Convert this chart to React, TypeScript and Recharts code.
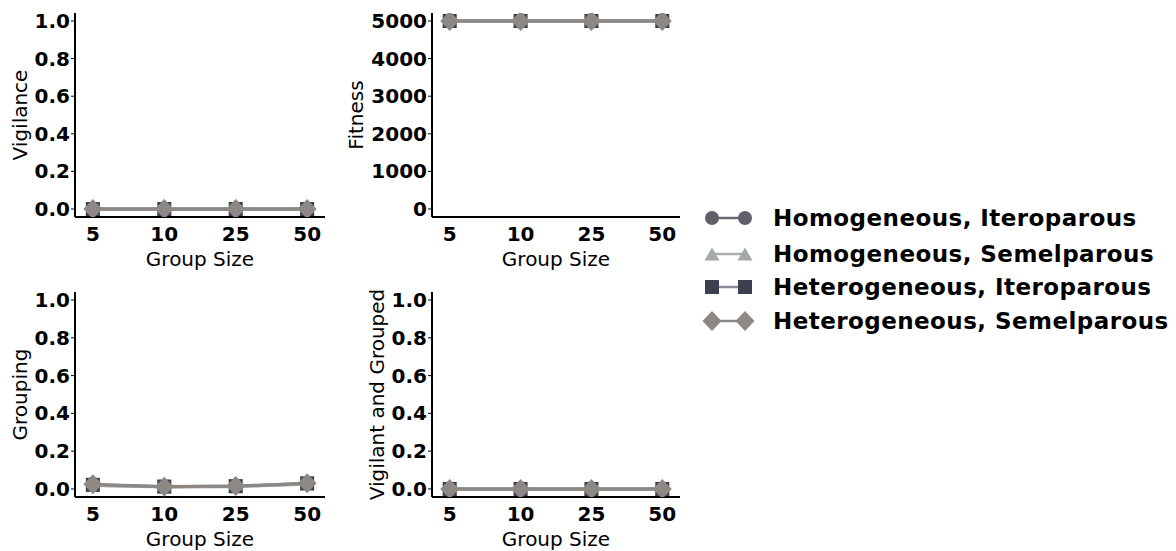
import React from 'react';
import { LineChart, Line, XAxis, YAxis } from 'recharts';

const groupSizes = ['5', '10', '25', '50'];

const vigilanceHomIter = [0, 0, 0, 0];
const vigilanceHomSemel = [0, 0, 0, 0];
const vigilanceHetIter = [0, 0, 0, 0];
const vigilanceHetSemel = [0, 0, 0, 0];

const fitnessHomIter = [5000, 5000, 5000, 5000];
const fitnessHomSemel = [5000, 5000, 5000, 5000];
const fitnessHetIter = [5000, 5000, 5000, 5000];
const fitnessHetSemel = [5000, 5000, 5000, 5000];

const groupingHomIter = [0.02, 0.012, 0.014, 0.028];
const groupingHomSemel = [0.018, 0.01, 0.012, 0.025];
const groupingHetIter = [0.022, 0.013, 0.015, 0.03];
const groupingHetSemel = [0.025, 0.012, 0.015, 0.03];

const bothHomIter = [0, 0, 0, 0];
const bothHomSemel = [0, 0, 0, 0];
const bothHetIter = [0, 0, 0, 0];
const bothHetSemel = [0, 0, 0, 0];

const propTicks = [0, 0.2, 0.4, 0.6, 0.8, 1.0];
const fitnessTicks = [0, 1000, 2000, 3000, 4000, 5000];

const seriesNames = [
  'Homogeneous, Iteroparous',
  'Homogeneous, Semelparous',
  'Heterogeneous, Iteroparous',
  'Heterogeneous, Semelparous',
];

const COLORS = ['#5f5f69', '#a3a9ab', '#3d404f', '#8d8883'];
const LINE_COLORS = ['#6a6b74', '#a9aeb0', '#8a8c95', '#8d8883'];
const FONT = '"DejaVu Sans", sans-serif';

type Shape = 'circle' | 'triangle' | 'square' | 'diamond';
const SHAPES: Shape[] = ['circle', 'triangle', 'square', 'diamond'];

const marker = (shape: Shape, cx: number, cy: number, color: string, key?: string, scale = 1) => {
  if (shape === 'circle') return <circle key={key} cx={cx} cy={cy} r={7 * scale} fill={color} />;
  if (shape === 'triangle') {
    const w = 7.5 * scale, h = 6.5 * scale;
    return <polygon key={key} points={`${cx},${cy - h} ${cx + w},${cy + h} ${cx - w},${cy + h}`} fill={color} />;
  }
  if (shape === 'square') {
    const s = 7 * scale;
    return <rect key={key} x={cx - s} y={cy - s} width={2 * s} height={2 * s} fill={color} />;
  }
  const w = 9.5 * scale, h = 10 * scale;
  return <polygon key={key} points={`${cx},${cy - h} ${cx + w},${cy} ${cx},${cy + h} ${cx - w},${cy}`} fill={color} />;
};

const buildRows = (a: number[], b: number[], c: number[], d: number[]) =>
  groupSizes.map((_, i) => ({ idx: i, s0: a[i], s1: b[i], s2: c[i], s3: d[i] }));

interface PanelProps {
  left: number;
  top: number;
  width: number;
  height: number;
  marginTop: number;
  yAxisWidth: number;
  xAxisHeight: number;
  xLabelOffset: number;
  yLabel: string;
  yLabelOffset: number;
  domain: [number, number];
  ticks: number[];
  fmt: (v: number) => string;
  rows: any[];
}

const tickStyle = { fontFamily: FONT, fontSize: 20, fontWeight: 'bold', fill: '#000' };
const labelStyle = { fontFamily: FONT, fontSize: 20, fill: '#000', textAnchor: 'middle' as const };

const Panel: React.FC<PanelProps> = (p) => (
  <div style={{ position: 'absolute', left: p.left, top: p.top }}>
    <LineChart width={p.width} height={p.height} data={p.rows} margin={{ top: p.marginTop, right: p.width === 340 ? 15 : 5, bottom: 0, left: 0 }}>
      <XAxis
        dataKey="idx"
        type="number"
        domain={[-0.25, 3.25]}
        ticks={[0, 1, 2, 3]}
        tickFormatter={(v: number) => groupSizes[v]}
        allowDataOverflow
        height={p.xAxisHeight}
        tick={tickStyle}
        tickLine={false}
        tickMargin={4}
        axisLine={{ stroke: '#000', strokeWidth: 2 }}
        label={{ value: 'Group Size', position: 'insideBottom', offset: p.xLabelOffset, style: labelStyle }}
      />
      <YAxis
        type="number"
        domain={p.domain}
        ticks={p.ticks}
        tickFormatter={p.fmt}
        allowDataOverflow
        width={p.yAxisWidth}
        tick={tickStyle}
        tickSize={4}
        tickMargin={1}
        tickLine={{ stroke: '#000', strokeWidth: 1 }}
        axisLine={{ stroke: '#000', strokeWidth: 2 }}
        label={{ value: p.yLabel, angle: -90, position: 'insideLeft', offset: p.yLabelOffset, style: labelStyle }}
      />
      {SHAPES.map((shape, si) => (
        <Line
          key={shape}
          type="linear"
          dataKey={`s${si}`}
          stroke={LINE_COLORS[si]}
          strokeWidth={3}
          isAnimationActive={false}
          activeDot={false}
          dot={(d: any) => marker(shape, d.cx, d.cy, COLORS[si], `${shape}-${d.index}`)}
        />
      ))}
    </LineChart>
  </div>
);

const legendRows = [218, 254, 287, 321];

const App: React.FC = () => (
  <div style={{ position: 'absolute', left: 0, top: 0, width: 1176, height: 551, background: '#fff', fontFamily: FONT }}>
    <Panel
      left={0} top={0} width={340} height={280} marginTop={13} yAxisWidth={75} xAxisHeight={63} xLabelOffset={14}
      yLabel="Vigilance" yLabelOffset={20} domain={[-0.0426, 1.0426]} ticks={propTicks} fmt={(v) => v.toFixed(1)}
      rows={buildRows(vigilanceHomIter, vigilanceHomSemel, vigilanceHetIter, vigilanceHetSemel)}
    />
    <Panel
      left={340} top={0} width={345} height={280} marginTop={13} yAxisWidth={92} xAxisHeight={63} xLabelOffset={14}
      yLabel="Fitness" yLabelOffset={16} domain={[-213, 5213]} ticks={fitnessTicks} fmt={(v) => String(v)}
      rows={buildRows(fitnessHomIter, fitnessHomSemel, fitnessHetIter, fitnessHetSemel)}
    />
    <Panel
      left={0} top={280} width={340} height={271} marginTop={12} yAxisWidth={75} xAxisHeight={54} xLabelOffset={5}
      yLabel="Grouping" yLabelOffset={20} domain={[-0.0426, 1.0426]} ticks={propTicks} fmt={(v) => v.toFixed(1)}
      rows={buildRows(groupingHomIter, groupingHomSemel, groupingHetIter, groupingHetSemel)}
    />
    <Panel
      left={340} top={280} width={345} height={271} marginTop={12} yAxisWidth={92} xAxisHeight={54} xLabelOffset={5}
      yLabel="Vigilant and Grouped" yLabelOffset={37} domain={[-0.0426, 1.0426]} ticks={propTicks} fmt={(v) => v.toFixed(1)}
      rows={buildRows(bothHomIter, bothHomSemel, bothHetIter, bothHetSemel)}
    />

    {/* legend */}
    {seriesNames.map((name, i) => (
      <div key={name} style={{ position: 'absolute', left: 697, top: legendRows[i] - 15, height: 30, display: 'flex', alignItems: 'center' }}>
        <svg width={62} height={30} style={{ display: 'block' }}>
          <line x1={15} y1={15} x2={48} y2={15} stroke={LINE_COLORS[i]} strokeWidth={2.5} />
          {marker(SHAPES[i], 15, 15, COLORS[i])}
          {marker(SHAPES[i], 48, 15, COLORS[i])}
        </svg>
        <span style={{ marginLeft: 14, fontSize: 23, letterSpacing: 0.45, fontWeight: 'bold', color: '#000', whiteSpace: 'nowrap' }}>{name}</span>
      </div>
    ))}
  </div>
);

export default App;
